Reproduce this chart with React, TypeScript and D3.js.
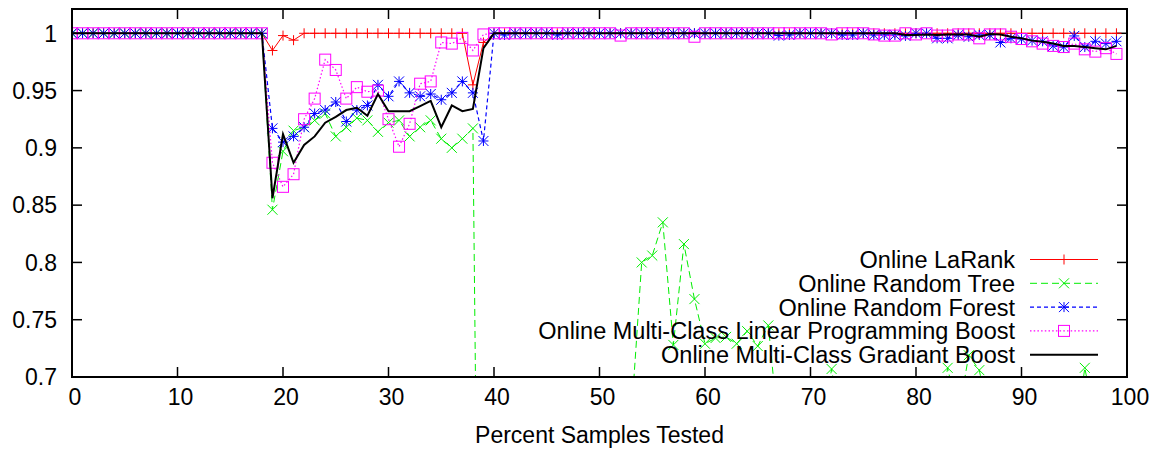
import React from 'react';
import * as d3 from 'd3';

const percentTested = [
  0, 1, 2, 3, 4, 5, 6, 7, 8, 9, 10, 11, 12, 13, 14, 15, 16, 17, 18, 19,
  20, 21, 22, 23, 24, 25, 26, 27, 28, 29, 30, 31, 32, 33, 34, 35, 36, 37, 38, 39,
  40, 41, 42, 43, 44, 45, 46, 47, 48, 49, 50, 51, 52, 53, 54, 55, 56, 57, 58, 59,
  60, 61, 62, 63, 64, 65, 66, 67, 68, 69, 70, 71, 72, 73, 74, 75, 76, 77, 78, 79,
  80, 81, 82, 83, 84, 85, 86, 87, 88, 89, 90, 91, 92, 93, 94, 95, 96, 97, 98, 99,
];

const onlineLaRank = [
  1, 1, 1, 1, 1, 1, 1, 1, 1, 1, 1, 1, 1, 1, 1, 1, 1, 1, 1, 0.985,
  0.998, 0.994, 1, 1, 1, 1, 1, 1, 1, 1, 1, 1, 1, 1, 1, 1, 1, 1, 0.955, 0.992,
  1, 1, 1, 1, 1, 1, 1, 1, 1, 1, 1, 1, 1, 1, 1, 1, 1, 1, 1, 1,
  1, 1, 1, 1, 1, 1, 1, 1, 1, 1, 1, 1, 1, 1, 1, 1, 1, 1, 1, 1,
  1, 1, 1, 1, 1, 1, 1, 1, 1, 1, 1, 1, 1, 1, 1, 1, 1, 1, 1, 1,
];

const onlineRandomTree = [
  1, 1, 1, 1, 1, 1, 1, 1, 1, 1, 1, 1, 1, 1, 1, 1, 1, 1, 1, 0.846,
  0.897, 0.915, 0.918, 0.924, 0.93, 0.91, 0.918, 0.926, 0.924, 0.914,
  0.922, 0.924, 0.91, 0.918, 0.924, 0.908, 0.9, 0.908, 0.917, 0.02,
  0.58, 0.61, 0.63, 0.6, 0.62, 0.64, 0.61, 0.6, 0.63, 0.65,
  0.62, 0.64, 0.6, 0.663, 0.8, 0.806, 0.835, 0.728, 0.816, 0.768,
  0.729, 0.734, 0.735, 0.729, 0.74, 0.727, 0.745, 0.651, 0.64, 0.66,
  0.62, 0.65, 0.707, 0.65, 0.63, 0.66, 0.64, 0.62, 0.65, 0.66,
  0.64, 0.63, 0.65, 0.708, 0.666, 0.719, 0.706, 0.66, 0.64, 0.63,
  0.65, 0.62, 0.64, 0.66, 0.65, 0.64, 0.708, 0.66, 0.65, 0.64,
];

const onlineRandomForest = [
  1, 1, 1, 1, 1, 1, 1, 1, 1, 1, 1, 1, 1, 1, 1, 1, 1, 1, 1, 0.917,
  0.905, 0.91, 0.918, 0.93, 0.933, 0.94, 0.923, 0.933, 0.937, 0.955,
  0.945, 0.958, 0.948, 0.945, 0.947, 0.942, 0.948, 0.958, 0.948, 0.906,
  1, 0.9985, 1, 1, 1, 1, 0.9985, 1, 1, 1,
  1, 1, 1, 1, 1, 1, 1, 1, 1, 1,
  1, 1, 1, 1, 1, 1, 1, 0.998, 0.9985, 1,
  1, 1, 1, 0.9985, 0.9985, 1, 0.9985, 0.9985, 0.9985, 0.9977,
  1, 1, 0.9956, 0.9956, 0.9985, 0.997, 0.9985, 0.9985, 0.992, 0.9956,
  0.995, 0.9936, 0.993, 0.989, 0.988, 0.9977, 0.988, 0.993, 0.991, 0.993,
];

const onlineLPBoost = [
  1, 1, 1, 1, 1, 1, 1, 1, 1, 1, 1, 1, 1, 1, 1, 1, 1, 1, 1, 0.887,
  0.866, 0.877, 0.925, 0.943, 0.977, 0.968, 0.943, 0.953, 0.949, 0.95,
  0.925, 0.901, 0.921, 0.956, 0.958, 0.992, 0.991, 0.996, 0.985, 0.999,
  1, 1, 1, 1, 1, 1, 1, 1, 1, 1,
  1, 1, 0.998, 1, 1, 1, 1, 1, 1, 0.997,
  1, 1, 1, 1, 1, 1, 1, 1, 1, 1,
  1, 1, 0.999, 1, 1, 1, 0.999, 0.998, 0.998, 1,
  0.999, 1, 0.998, 0.998, 0.999, 0.999, 0.9956, 0.999, 0.999, 0.997,
  0.995, 0.993, 0.991, 0.989, 0.988, 0.991, 0.986, 0.984, 0.987, 0.982,
];

const onlineGradBoost = [
  1, 1, 1, 1, 1, 1, 1, 1, 1, 1, 1, 1, 1, 1, 1, 1, 1, 1, 1, 0.856,
  0.912, 0.887, 0.9025, 0.91, 0.922, 0.927, 0.933, 0.935, 0.928, 0.947,
  0.932, 0.932, 0.932, 0.9365, 0.941, 0.918, 0.937, 0.932, 0.934, 0.987,
  1, 1, 1, 1, 1, 1, 1, 1, 1, 1,
  1, 1, 1, 1, 1, 1, 1, 1, 1, 1,
  1, 1, 1, 1, 1, 1, 1, 1, 1, 1,
  1, 1, 1, 1, 1, 1, 1, 1, 1, 0.9985,
  0.9985, 0.999, 0.9985, 0.999, 0.999, 0.999, 0.997, 0.9994, 0.999, 0.997,
  0.9956, 0.9936, 0.9927, 0.991, 0.989, 0.989, 0.988, 0.987, 0.986, 0.989,
];

const seriesNames = [
  'Online LaRank',
  'Online Random Tree',
  'Online Random Forest',
  'Online Multi-Class Linear Programming Boost',
  'Online Multi-Class Gradiant Boost',
];

const xTicks = [0, 10, 20, 30, 40, 50, 60, 70, 80, 90, 100];
const yTicks = [0.7, 0.75, 0.8, 0.85, 0.9, 0.95, 1];
const xTitle = 'Percent Samples Tested';

const W = 1153;
const H = 451;
const L = 72;
const R = 1127;
const T = 9;
const B = 377;
const FONT = '"Liberation Sans", Arial, Helvetica, sans-serif';

type Style = { color: string; width: number; dash?: string; marker: string };
const styles: Style[] = [
  { color: '#ff0000', width: 1, marker: 'plus' },
  { color: '#00ee00', width: 1, dash: '7,4', marker: 'cross' },
  { color: '#0000ff', width: 1.2, dash: '4,3', marker: 'star' },
  { color: '#ff00ff', width: 1.2, dash: '1.5,2.2', marker: 'square' },
  { color: '#000000', width: 2, marker: 'none' },
];

function Marker({ kind, x, y, color }: { kind: string; x: number; y: number; color: string }) {
  const s = 5;
  if (kind === 'plus')
    return <path d={`M${x - s},${y}H${x + s}M${x},${y - s}V${y + s}`} stroke={color} strokeWidth={1} fill="none" />;
  if (kind === 'cross')
    return <path d={`M${x - s},${y - s}L${x + s},${y + s}M${x - s},${y + s}L${x + s},${y - s}`} stroke={color} strokeWidth={1} fill="none" />;
  if (kind === 'star')
    return (
      <path
        d={`M${x - s},${y}H${x + s}M${x},${y - s}V${y + s}M${x - s},${y - s}L${x + s},${y + s}M${x - s},${y + s}L${x + s},${y - s}`}
        stroke={color}
        strokeWidth={1}
        fill="none"
      />
    );
  if (kind === 'square')
    return <rect x={x - 5.5} y={y - 5.5} width={11} height={11} stroke={color} strokeWidth={1} fill="none" />;
  return null;
}

export default function App() {
  const x = d3.scaleLinear().domain([0, 100]).range([L, R]);
  const y = d3.scaleLinear().domain([0.7, 1.0212]).range([B, T]);
  const allSeries = [onlineLaRank, onlineRandomTree, onlineRandomForest, onlineLPBoost, onlineGradBoost];
  const line = d3
    .line<number>()
    .x((_, i) => x(percentTested[i]))
    .y((d) => y(d));

  const legendY0 = 259.5;
  const legendDy = 23.8;

  return (
    <svg
      width={W}
      height={H}
      style={{ position: 'absolute', left: 0, top: 0, display: 'block', background: '#fff' }}
      fontFamily={FONT}
    >
      <defs>
        <clipPath id="plotClip">
          <rect x={L} y={T} width={R - L} height={B - T} />
        </clipPath>
      </defs>
      <rect x={0} y={0} width={W} height={H} fill="#fff" />

      {/* ticks */}
      {yTicks.map((t) => (
        <g key={'y' + t}>
          <line x1={L} x2={L + 10} y1={y(t)} y2={y(t)} stroke="#000" strokeWidth={1.5} />
          <line x1={R} x2={R - 10} y1={y(t)} y2={y(t)} stroke="#000" strokeWidth={1.5} />
          <text x={57} y={y(t)} dy="0.36em" textAnchor="end" fontSize={23}>
            {String(t)}
          </text>
        </g>
      ))}
      {xTicks.map((t) => (
        <g key={'x' + t}>
          <line x1={x(t)} x2={x(t)} y1={B} y2={B - 10} stroke="#000" strokeWidth={1.5} />
          <line x1={x(t)} x2={x(t)} y1={T} y2={T + 10} stroke="#000" strokeWidth={1.5} />
          <text x={x(t) + 3} y={405} textAnchor="middle" fontSize={23}>
            {String(t)}
          </text>
        </g>
      ))}
      <text x={(L + R) / 2} y={443} textAnchor="middle" fontSize={23}>
        {xTitle}
      </text>

      {/* data */}
      <g clipPath="url(#plotClip)">
        {allSeries.map((data, si) => {
          const st = styles[si];
          return (
            <g key={'s' + si}>
              <path
                d={line(data) || ''}
                fill="none"
                stroke={st.color}
                strokeWidth={st.width}
                strokeDasharray={st.dash}
                strokeLinejoin="miter"
              />
              {st.marker !== 'none' &&
                data.map((v, i) =>
                  v >= 0.7 ? (
                    <Marker key={i} kind={st.marker} x={x(percentTested[i])} y={y(v)} color={st.color} />
                  ) : null
                )}
            </g>
          );
        })}
      </g>

      {/* legend */}
      {seriesNames.map((name, i) => {
        const st = styles[i];
        const ly = legendY0 + i * legendDy;
        return (
          <g key={'l' + i}>
            <text x={1015} y={ly} dy="0.36em" textAnchor="end" fontSize={23.5}>
              {name}
            </text>
            <line x1={1030} x2={1098} y1={ly} y2={ly} stroke={st.color} strokeWidth={st.width} strokeDasharray={st.dash} />
            {st.marker !== 'none' && <Marker kind={st.marker} x={1064} y={ly} color={st.color} />}
          </g>
        );
      })}

      {/* frame */}
      <rect x={L} y={T} width={R - L} height={B - T} fill="none" stroke="#000" strokeWidth={2} />
    </svg>
  );
}
